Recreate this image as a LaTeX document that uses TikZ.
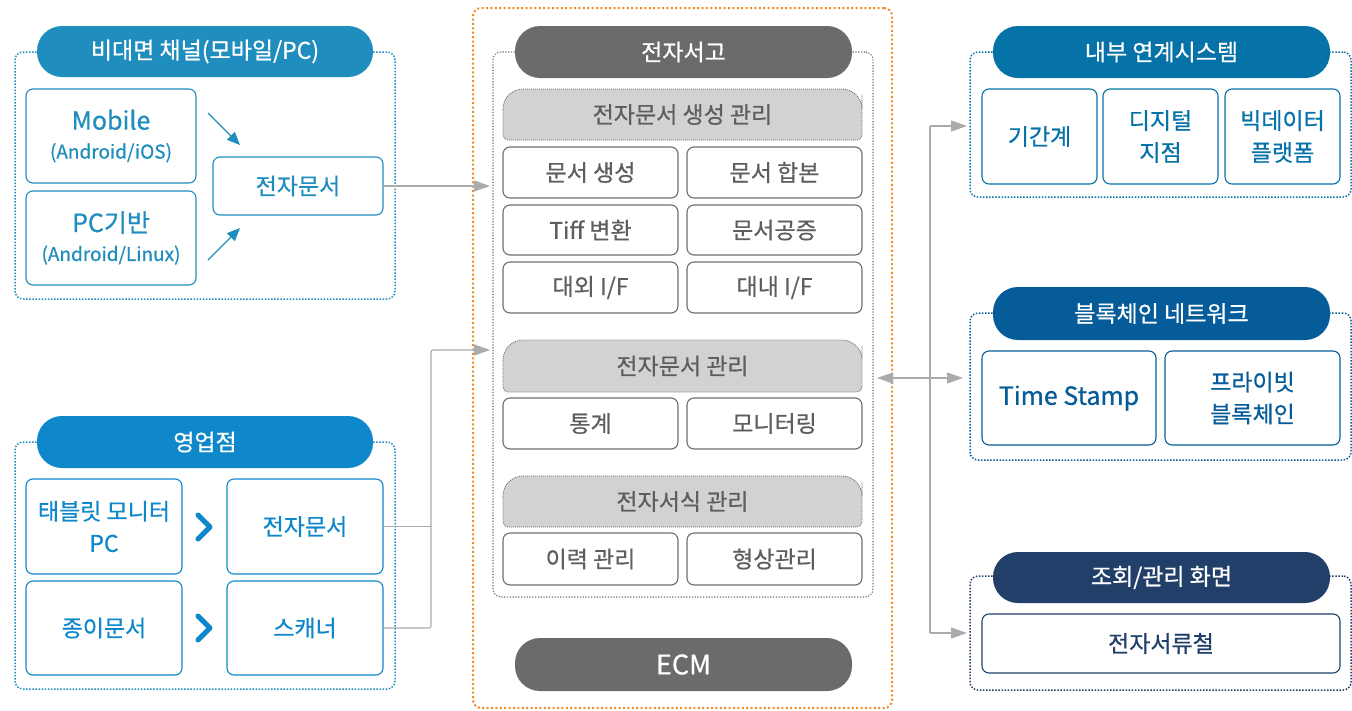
\documentclass[tikz,border=0pt]{standalone}
\usepackage{fontspec}
\setmainfont{Noto Sans CJK KR}[FakeBold=0.6]
\usetikzlibrary{arrows.meta,calc}
\definecolor{cA}{HTML}{1F8DBE}
\definecolor{cB}{HTML}{0E88CB}
\definecolor{cR1}{HTML}{0572A8}
\definecolor{cR2}{HTML}{055C99}
\definecolor{cR3}{HTML}{213F69}
\definecolor{dgrey}{HTML}{6B6B6E}
\definecolor{lgrey}{HTML}{D1D2D4}
\definecolor{igrey}{HTML}{6E6E6E}
\definecolor{tgrey}{HTML}{5E5E5E}
\definecolor{agrey}{HTML}{ABABAB}
\definecolor{orng}{HTML}{F28A28}
\newcommand\fs[2]{\fontsize{#1}{#2}\selectfont}
\newcommand\secshape[4]{\path[secbg] (#1,{(#2+#4)/2}) [rounded corners=20pt] -- (#1,#2) -- (#3,#2) -- (#3,{(#2+#4)/2}) [rounded corners=5pt] -- (#3,#4) -- (#1,#4) -- cycle;}
\begin{document}
\begin{tikzpicture}[x=1pt,y=-1pt,
  nb/.style={inner sep=0pt, outer sep=0pt, align=center},
  pillbox/.style={nb, rounded corners=25pt, text=white, font=\fs{23}{28}},
  cbox/.style={nb, draw, fill=white, rounded corners=7pt, line width=1.1pt, font=\fs{23}{32}},
  gbox/.style={cbox, draw=igrey, text=tgrey},
  dotframe/.style={nb, draw, rounded corners=8pt, line width=1.5pt, dash pattern=on 1.5pt off 1.6pt},
  garrow/.style={draw=agrey, line width=1.2pt, -{Triangle[length=16pt,width=11pt]}},
  gline/.style={draw=agrey, line width=1.2pt, rounded corners=2pt},
  barrow/.style={draw=cA, line width=1.2pt, -{Triangle[length=13pt,width=11pt]}},
  chev/.style={draw=cB, line width=5pt, line cap=round, line join=round},
  secbg/.style={fill=lgrey, draw=igrey, line width=0.8pt, dash pattern=on 1pt off 1pt},
  sectext/.style={nb, text=tgrey, font=\fs{23}{28}},
]
\useasboundingbox (0,0) rectangle (1352,710);

% ---------- Left top panel ----------
\node[dotframe, draw=cA, minimum width=380pt, minimum height=247pt] (frameA) at (205,175.5) {};
\node[pillbox, fill=cA, minimum width=336pt, minimum height=51pt] (hdrA) at (205,51.5) {비대면 채널(모바일/PC)};
\node[cbox, draw=cA, text=cA, minimum width=170pt, minimum height=94pt] (mobile) at (111,136)
  {{\fs{25}{28}Mobile}\\[-3pt]{\fs{19}{24}(Android/iOS)}};
\node[cbox, draw=cA, text=cA, minimum width=170pt, minimum height=94pt] (pcbase) at (111,238)
  {{\fs{25}{28}PC기반}\\[-3pt]{\fs{19}{24}(Android/Linux)}};
\node[cbox, draw=cA, text=cA, minimum width=170pt, minimum height=58pt] (edocA) at (298,186) {전자문서};
\coordinate (a1s) at (208,113);
\coordinate (a1e) at (240,145);
\coordinate (a2s) at (208,260);
\coordinate (a2e) at (240,228);
\draw[barrow] (a1s) -- (a1e);
\draw[barrow] (a2s) -- (a2e);

% ---------- Left bottom panel ----------
\node[dotframe, draw=cA, minimum width=380pt, minimum height=247pt] (frameB) at (205,565.5) {};
\node[pillbox, fill=cB, minimum width=336pt, minimum height=52pt] (hdrB) at (205,442) {영업점};
\node[cbox, draw=cB, text=cB, minimum width=156pt, minimum height=95pt] (tablet) at (104,526.5) {태블릿 모니터\\PC};
\node[cbox, draw=cB, text=cB, minimum width=156pt, minimum height=94pt] (paper) at (104,628) {종이문서};
\node[cbox, draw=cB, text=cB, minimum width=156pt, minimum height=95pt] (edocB) at (305,526.5) {전자문서};
\node[cbox, draw=cB, text=cB, minimum width=156pt, minimum height=94pt] (scanner) at (305,628) {스캐너};
\coordinate (c1) at (210,527);
\coordinate (c2) at (210,628);
\draw[chev] ($(c1)+(-12,-12)$) -- (c1) -- ($(c1)+(-12,12)$);
\draw[chev] ($(c2)+(-12,-12)$) -- (c2) -- ($(c2)+(-12,12)$);

% ---------- Center ----------
\node[nb, draw=orng, rounded corners=8pt, line width=2pt, dash pattern=on 2pt off 2.4pt, minimum width=419pt, minimum height=700pt] (outer) at (682.5,358) {};
\node[dotframe, draw=igrey, line width=1.1pt, dash pattern=on 1.2pt off 1.6pt, minimum width=380pt, minimum height=545pt] (store) at (683,324.5) {};
\node[pillbox, fill=dgrey, minimum width=337pt, minimum height=52pt] (hdrS) at (683.5,52) {전자서고};

\secshape{503}{89}{862}{140}
\node[sectext] (sec1) at (682.5,114.5) {전자문서 생성 관리};
\node[gbox, minimum width=175pt, minimum height=51pt] (i11) at (590.5,172.5) {문서 생성};
\node[gbox, minimum width=175pt, minimum height=51pt] (i12) at (774.5,172.5) {문서 합본};
\node[gbox, minimum width=175pt, minimum height=50pt] (i21) at (590.5,230) {Tiff 변환};
\node[gbox, minimum width=175pt, minimum height=50pt] (i22) at (774.5,230) {문서공증};
\node[gbox, minimum width=175pt, minimum height=51pt] (i31) at (590.5,287.5) {대외 I/F};
\node[gbox, minimum width=175pt, minimum height=51pt] (i32) at (774.5,287.5) {대내 I/F};

\secshape{503}{340}{862}{392}
\node[sectext] (sec2) at (682.5,366) {전자문서 관리};
\node[gbox, minimum width=175pt, minimum height=51pt] (i41) at (590.5,423.5) {통계};
\node[gbox, minimum width=175pt, minimum height=51pt] (i42) at (774.5,423.5) {모니터링};

\secshape{503}{476}{862}{527}
\node[sectext] (sec3) at (682.5,501.5) {전자서식 관리};
\node[gbox, minimum width=175pt, minimum height=52pt] (i51) at (590.5,559) {이력 관리};
\node[gbox, minimum width=175pt, minimum height=52pt] (i52) at (774.5,559) {형상관리};

\node[pillbox, fill=dgrey, font=\fs{27}{30}, minimum width=337pt, minimum height=53pt] (ecm) at (683.5,664.5) {ECM};

% ---------- Right panels ----------
\node[dotframe, draw=cR1, minimum width=381pt, minimum height=145pt] (frameR1) at (1160.5,124.5) {};
\node[pillbox, fill=cR1, minimum width=337pt, minimum height=52pt] (hdrR1) at (1161.5,52) {내부 연계시스템};
\node[cbox, draw=cR1, text=cR1, minimum width=115pt, minimum height=95pt] (r1a) at (1039.5,136.5) {기간계};
\node[cbox, draw=cR1, text=cR1, minimum width=115pt, minimum height=95pt] (r1b) at (1160.5,136.5) {디지털\\지점};
\node[cbox, draw=cR1, text=cR1, minimum width=115pt, minimum height=95pt] (r1c) at (1282.5,136.5) {빅데이터\\플랫폼};

\node[dotframe, draw=cR2, minimum width=381pt, minimum height=147pt] (frameR2) at (1160.5,386.5) {};
\node[pillbox, fill=cR2, minimum width=337pt, minimum height=53pt] (hdrR2) at (1161.5,313.5) {블록체인 네트워크};
\node[cbox, draw=cR2, text=cR2, font=\fs{25}{30}, minimum width=174pt, minimum height=94pt] (ts) at (1069,398) {Time Stamp};
\node[cbox, draw=cR2, text=cR2, minimum width=175pt, minimum height=94pt] (pb) at (1252.5,398) {프라이빗\\블록체인};

\node[dotframe, draw=cR3, minimum width=381pt, minimum height=114pt] (frameR3) at (1160.5,633) {};
\node[pillbox, fill=cR3, minimum width=337pt, minimum height=51pt] (hdrR3) at (1161.5,577.5) {조회/관리 화면};
\node[cbox, draw=cR3, text=cR3, minimum width=358pt, minimum height=59pt] (efile) at (1161,643.5) {전자서류철};

% ---------- Connectors ----------
\draw[garrow, shorten >=3pt] (edocA.east) -- (edocA.east -| store.west);
\coordinate (jB) at (431,350);
\draw[gline] (edocB.east) -- (edocB.east -| jB);
\draw[garrow, rounded corners=2pt, shorten >=3pt] (scanner.east) -| (jB) -- (jB -| store.west);

\coordinate (t1) at (930,126);
\coordinate (t3) at (930,633);
\coordinate (tm) at (930,378);
\draw[gline] (t1) -- (t3);
\draw[garrow, shorten >=3pt] (t1) -- (t1 -| frameR1.west);
\draw[garrow, shorten >=3pt] (t3) -- (t3 -| frameR3.west);
\draw[draw=agrey, line width=1.2pt, {Triangle[length=16pt,width=11pt]}-{Triangle[length=16pt,width=11pt]}, shorten <=4pt, shorten >=7pt] (tm -| store.east) -- (tm -| frameR2.west);
\end{tikzpicture}
\end{document}
